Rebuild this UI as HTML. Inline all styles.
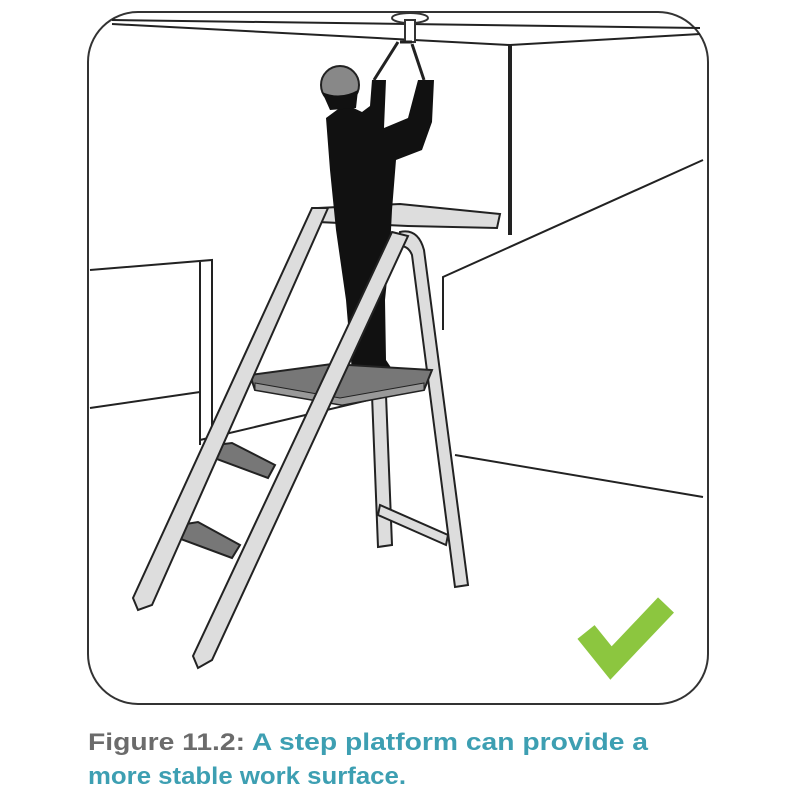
<!DOCTYPE html>
<html><head><meta charset="utf-8"><style>
html,body{margin:0;padding:0;background:#fff;}
svg{display:block;}
</style></head><body>
<svg width="800" height="800" viewBox="0 0 800 800" xmlns="http://www.w3.org/2000/svg">
<rect x="88" y="12" width="620" height="692" rx="50" fill="#fff" stroke="#333" stroke-width="2"/>
<!-- ceiling -->
<g fill="none" stroke="#222" stroke-width="2">
<path d="M112 20 L700 28"/>
<path d="M112 24 L510 45 L700 34"/>
<path d="M510 45 L510 235" stroke-width="4"/>
<path d="M443 330 L443 277 L703 160"/>
<path d="M90 270 L212 260 L212 450"/>
<path d="M200 262 L200 445"/>
<path d="M90 408 L200 392"/>
<path d="M200 440 L390 395"/>
<path d="M455 455 L703 497"/>
</g>
<!-- light fixture -->
<ellipse cx="410" cy="18" rx="18" ry="5" fill="#fff" stroke="#333" stroke-width="2"/>
<rect x="405" y="20" width="10" height="22" fill="#fff" stroke="#333" stroke-width="2"/>
<!-- back legs -->
<g stroke="#222" stroke-width="2" fill="#ddd">
<path d="M400 232 Q418 228 424 250 L468 585 L455 587 L412 255 Q408 245 398 246 Z"/>
<path d="M372 395 L386 395 L392 545 L378 547 Z"/>
<path d="M380 505 L448 535 L446 545 L378 515 Z"/>
<!-- handrail -->
<path d="M318 208 L400 204 L500 214 L497 228 L408 226 L318 222 Z"/>
</g>
<!-- person -->
<g fill="#111">
<path d="M326 118 L345 104 L362 112 L370 106 L372 80 L386 80 L384 128 L408 118 L418 80 L434 80 L432 122 L422 150 L396 160 L392 210 L390 250 L385 300 L386 360 L394 372 L368 380 L352 372 L346 300 L336 230 L330 170 Z"/>
</g>
<circle cx="340" cy="85" r="19" fill="#888" stroke="#222" stroke-width="2"/>
<path d="M322 92 Q340 100 358 90 L356 108 L330 110 Z" fill="#111"/>
<path d="M374 80 L398 42 M424 80 L412 44 M400 42 L412 42" stroke="#222" stroke-width="3" fill="none"/>
<!-- platform -->
<path d="M250 375 L332 364 L432 370 L424 390 L342 405 L255 390 Z" fill="#777" stroke="#222" stroke-width="2"/>
<path d="M255 390 L342 405 L424 390 L424 383 L340 398 L255 383Z" fill="#999" stroke="#222" stroke-width="1"/>
<!-- steps -->
<path d="M215 445 L232 443 L275 465 L268 478 L214 458 Z" fill="#777" stroke="#222" stroke-width="2"/>
<path d="M180 525 L198 522 L240 545 L232 558 L178 538 Z" fill="#777" stroke="#222" stroke-width="2"/>
<!-- front rails -->
<g stroke="#222" stroke-width="2" fill="#ddd">
<path d="M312 208 L328 208 L152 605 L138 610 L133 598 Z"/>
<path d="M392 232 L408 236 L212 660 L198 668 L193 656 Z"/>
</g>
<!-- check -->
<polyline points="586,632 611,663 666,605" fill="none" stroke="#8cc63f" stroke-width="22"/>
<!-- caption -->
<text x="88" y="750" font-family="Liberation Sans, sans-serif" font-weight="bold" font-size="24" textLength="560" lengthAdjust="spacingAndGlyphs"><tspan fill="#6b6b6b">Figure 11.2:</tspan><tspan fill="#3d9fb2">  A step platform can provide a</tspan></text>
<text x="88" y="784" font-family="Liberation Sans, sans-serif" font-weight="bold" font-size="24" fill="#3d9fb2" textLength="318" lengthAdjust="spacingAndGlyphs">more stable work surface.</text>
</svg>
</body></html>
